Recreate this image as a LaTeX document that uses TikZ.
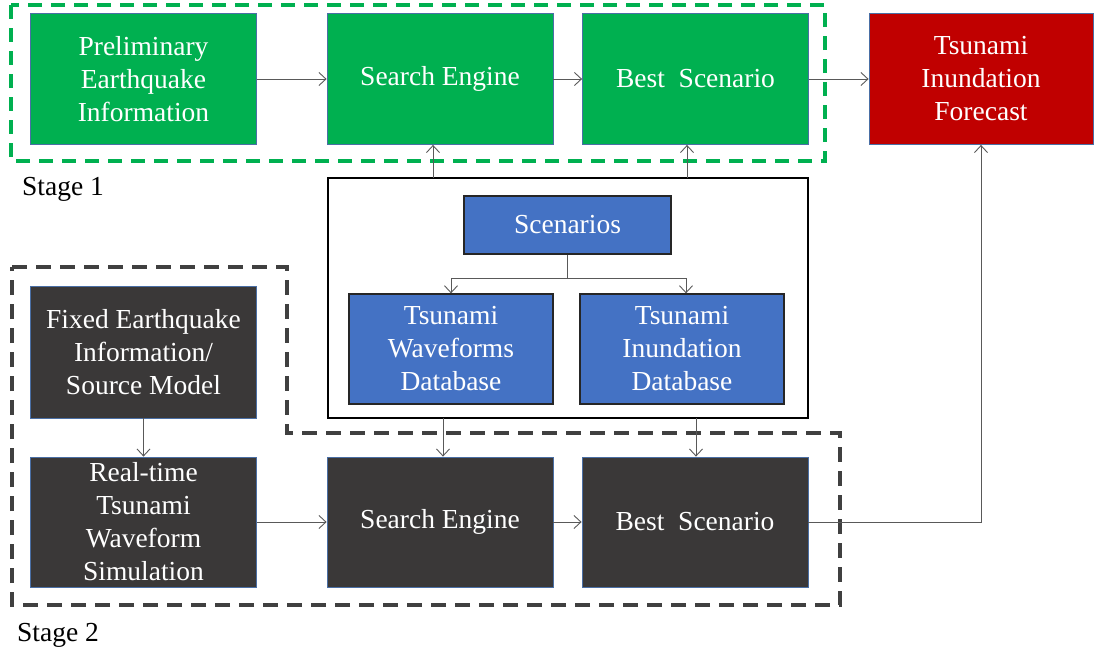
\documentclass[tikz,border=0pt]{standalone}
\usepackage{fontspec}
\setmainfont{Liberation Serif}
\usetikzlibrary{arrows.meta}
\definecolor{gfill}{HTML}{00B050}
\definecolor{rfill}{HTML}{C00000}
\definecolor{bfill}{HTML}{4472C4}
\definecolor{dfill}{HTML}{3A3838}
\definecolor{edgeblue}{HTML}{4A6FA5}
\definecolor{dashgray}{HTML}{404040}
\definecolor{linegray}{HTML}{595959}
\tikzset{
  box/.style={draw=edgeblue, line width=0.8pt, text=white, align=center, inner sep=0pt,
    font=\fontsize{27.5}{33}\selectfont},
  gbox/.style={box, fill=gfill, minimum width=226pt, minimum height=131pt},
  rbox/.style={box, fill=rfill, minimum width=224pt, minimum height=131pt},
  dbox/.style={box, fill=dfill, minimum width=226pt, minimum height=130pt},
  bbox/.style={box, fill=bfill, draw=black!85, line width=1.3pt},
  arr/.style={draw=linegray, line width=0.9pt, -{Straight Barb[length=7pt,width=13pt]}},
  plain/.style={draw=linegray, line width=0.9pt},
  gdash/.style={draw=gfill, line width=4pt, dash pattern=on 14pt off 9pt},
  kdash/.style={draw=dashgray, line width=4pt, dash pattern=on 15pt off 9pt},
  lbl/.style={anchor=base west, inner sep=0pt, font=\fontsize{27.5}{33}\selectfont}
}
\begin{document}
\begin{tikzpicture}[x=1pt,y=-1pt]
\useasboundingbox (0,0) rectangle (1095,653);
% stage frames
\draw[gdash] (11,5) rectangle (825,161);
\draw[kdash] (12,267) -- (287,267) -- (287,433) -- (840,433) -- (840,605) -- (12,605) -- cycle;
% stage 1 row
\node[gbox] (pre) at (143.5,79) {Preliminary\\Earthquake\\Information};
\node[gbox] (se1) at (440,79) {Search Engine};
\node[gbox] (bs1) at (695.5,79) {Best~~Scenario};
\node[rbox] (fc) at (981,79) {Tsunami\\Inundation\\Forecast};
% database frame
\node[draw=black, line width=1.3pt, minimum width=480pt, minimum height=240pt, inner sep=0pt] (frame) at (568,298) {};
\node[bbox, minimum width=207pt, minimum height=58pt] (scen) at (567.5,225) {Scenarios};
\node[bbox, minimum width=204pt, minimum height=110pt] (wdb) at (451,349) {Tsunami\\Waveforms\\Database};
\node[bbox, minimum width=204pt, minimum height=110pt] (idb) at (682,349) {Tsunami\\Inundation\\Database};
% stage 2 row
\node[dbox, minimum height=132pt] (fix) at (143.5,352) {Fixed Earthquake\\Information/\\Source Model};
\node[dbox] (rt) at (143.5,522) {Real-time\\Tsunami\\Waveform\\Simulation};
\node[dbox] (se2) at (440,522) {Search Engine};
\node[dbox] (bs2) at (695,522) {Best~~Scenario};
% labels
\node[lbl] (s1) at (22,195) {Stage 1};
\node[lbl] (s2) at (17,641) {Stage 2};
% connectors
\draw[arr] (pre.east) -- (se1.west);
\draw[arr] (se1.east) -- (bs1.west);
\draw[arr] (bs1.east) -- (fc.west);
\coordinate (ft1) at (433,178);
\coordinate (ft2) at (687,178);
\draw[arr] (ft1) -- (ft1 |- se1.south);
\draw[arr] (ft2) -- (ft2 |- bs1.south);
\coordinate (br) at (567.5,278);
\coordinate (bl) at (451,278);
\coordinate (brr) at (686,278);
\draw[plain] (scen.south) -- (br);
\draw[arr] (br) -- (bl) -- (wdb.north);
\draw[arr] (br) -- (brr) -- (brr |- idb.north);
\coordinate (fb1) at (443,418);
\coordinate (fb2) at (696,418);
\draw[arr] (fb1) -- (fb1 |- se2.north);
\draw[arr] (fb2) -- (fb2 |- bs2.north);
\draw[arr] (fix.south) -- (rt.north);
\draw[arr] (rt.east) -- (se2.west);
\draw[arr] (se2.east) -- (bs2.west);
\draw[arr] (bs2.east) -| (fc.south);
\end{tikzpicture}
\end{document}
